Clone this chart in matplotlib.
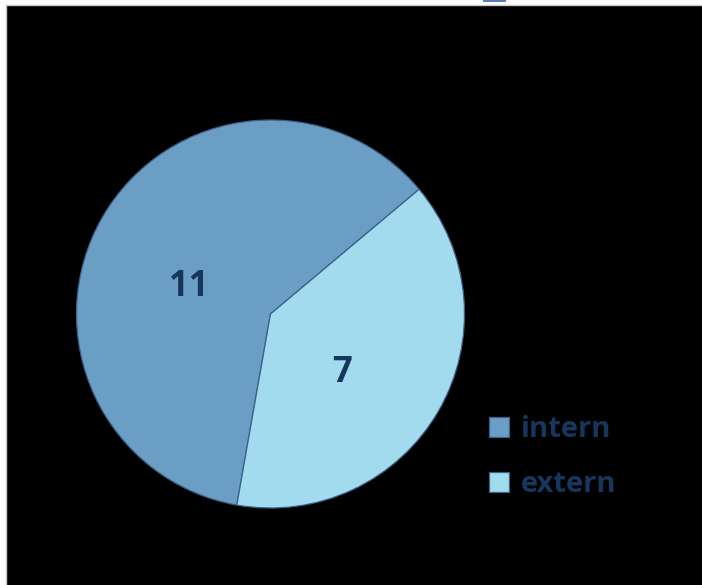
import matplotlib
matplotlib.use("Agg")
import matplotlib.pyplot as plt
import numpy as np
from matplotlib.patches import Rectangle

categories = ["intern", "extern"]
values = [11, 7]
colors = ["#6A9EC4", "#A2DAEE"]
text_color = "#17365D"
font = "Open Sans"

W, H = 702, 585
fig = plt.figure(figsize=(W / 100, H / 100), dpi=100, facecolor="white")

# black background panel
bg = fig.add_axes([6 / W, 0, (W - 6) / W, (H - 5) / H])
bg.set_facecolor("black")
bg.set_xticks([]); bg.set_yticks([])
for s in bg.spines.values():
    s.set_edgecolor("#C8C8C8"); s.set_linewidth(1)
bg.spines["right"].set_visible(False)
bg.spines["bottom"].set_visible(False)

# small clipped element at top
fig.patches.append(Rectangle((483 / W, (H - 2) / H), 23 / W, 2 / H,
                             transform=fig.transFigure, facecolor="#5B7FB5",
                             edgecolor="none", zorder=5))

cx, cy, r = 270.5, 314, 194
ax = fig.add_axes([(cx - r) / W, (H - cy - r) / H, 2 * r / W, 2 * r / H])
ax.set_facecolor("none")
wedges, _ = ax.pie(values, colors=colors, startangle=40, counterclock=True,
                   radius=1, wedgeprops=dict(edgecolor="#3E5F86", linewidth=0.9))
ax.set_xlim(-1, 1); ax.set_ylim(-1, 1)
ax.set_aspect("equal")
ax.axis("off")

# label placement (angle offset from wedge middle in degrees, radial distance)
label_offsets = [(12.0, 0.445), (-9.5, 0.475)]
for w, v, (dth, rd) in zip(wedges, values, label_offsets):
    mid = np.deg2rad((w.theta1 + w.theta2) / 2 + dth)
    ax.text(rd * np.cos(mid), rd * np.sin(mid), str(v), ha="center", va="center",
            fontsize=25, fontweight="bold", color=text_color, family=font)

leg = fig.legend(wedges, categories, loc="upper left",
                 bbox_to_anchor=(486 / W, (H - 412.5) / H),
                 frameon=False, labelcolor=text_color,
                 handlelength=0.68, handleheight=0.68, handletextpad=0.4,
                 labelspacing=0.88, borderaxespad=0, borderpad=0.1,
                 prop=dict(family=font, weight="bold", size=21))
for t in leg.get_texts():
    t.set_color(text_color)

fig.savefig("out.png", dpi=100, facecolor="white")
